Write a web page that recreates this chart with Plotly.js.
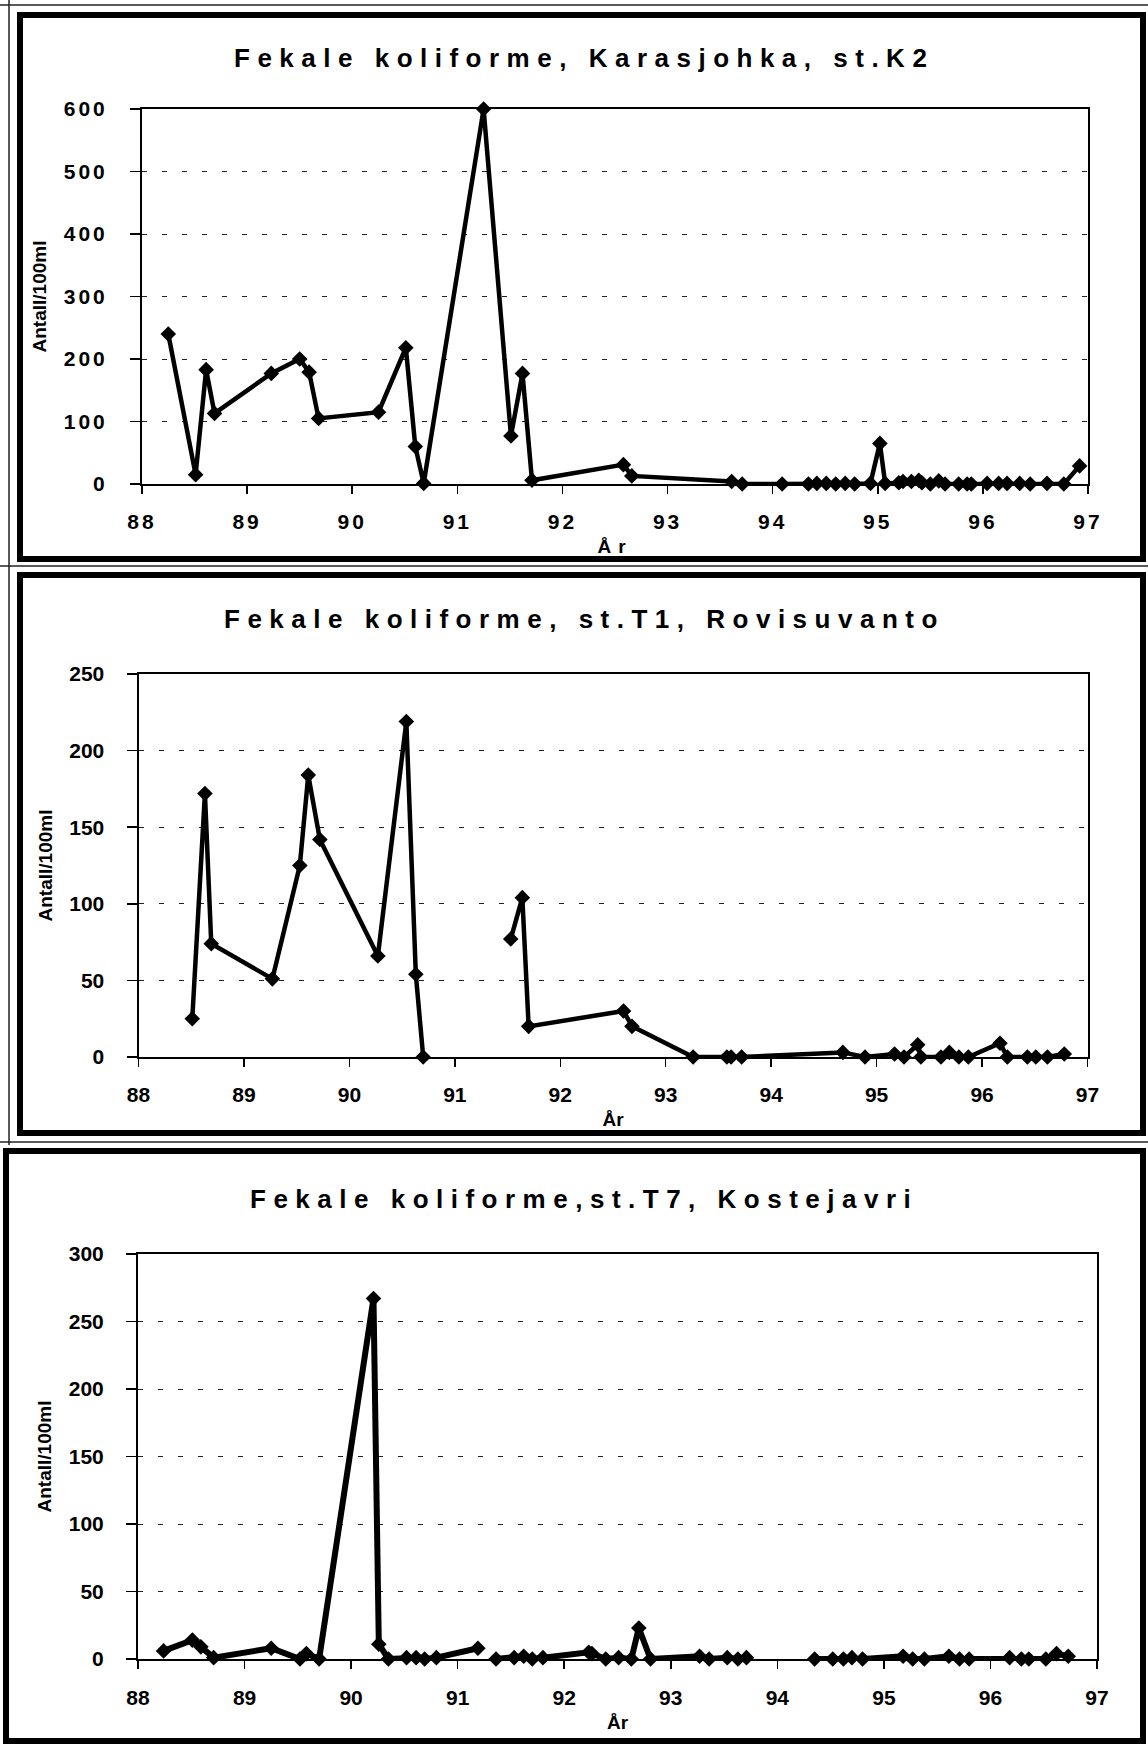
<!DOCTYPE html>
<html>
<head>
<meta charset="utf-8">
<script src="https://cdn.plot.ly/plotly-3.0.1.min.js"></script>
<style>
  html, body { margin: 0; padding: 0; background: #fff; }
  #chart { width: 1148px; height: 1745px; }
  .annotation-text { letter-spacing: 7.5px; font-weight: 900 !important; }
  .xtick text, .ytick text { letter-spacing: 3px; font-weight: bold !important; }
  .xtitle { letter-spacing: 7px; }
</style>
</head>
<body>
<div id="chart"></div>
<script>
// ---------- data ----------
const titles = [
  "Fekale koliforme, Karasjohka, st.K2",
  "Fekale koliforme, st.T1, Rovisuvanto",
  "Fekale koliforme,st.T7, Kostejavri"
];
const yAxisLabel = "Antall/100ml";
const xAxisLabel = "År";
const xTickVals = [88, 89, 90, 91, 92, 93, 94, 95, 96, 97];

// st.K2, Karasjohka
const yearsK2 = [88.25, 88.51, 88.61, 88.69, 89.23, 89.50, 89.59, 89.68, 90.25, 90.51, 90.60, 90.68,
  91.25, 91.51, 91.62, 91.71, 92.58, 92.66, 93.61, 93.71, 94.09, 94.34, 94.42, 94.51, 94.60, 94.69,
  94.78, 94.93, 95.02, 95.07, 95.20, 95.24, 95.32, 95.39, 95.42, 95.50, 95.58, 95.64, 95.77, 95.85,
  95.89, 96.04, 96.15, 96.23, 96.35, 96.45, 96.61, 96.77, 96.92];
const valsK2 = [240, 15, 183, 113, 177, 200, 179, 105, 115, 218, 60, 1,
  600, 77, 177, 6, 31, 13, 4, 0, 0, 0, 1, 1, 0, 1,
  0, 1, 65, 1, 2, 4, 4, 6, 2, 0, 5, 0, 0, 0,
  0, 1, 1, 1, 1, 0, 1, 0, 29];

// st.T1, Rovisuvanto (null = gap in the series)
const yearsT1 = [88.51, 88.63, 88.69, 89.27, 89.53, 89.61, 89.72, 90.27, 90.54, 90.63, 90.70, null,
  91.53, 91.64, 91.70, 92.60, 92.68, 93.26, 93.58, 93.62, 93.72, 94.68, 94.89, 95.17, 95.26, 95.39,
  95.42, 95.61, 95.69, 95.78, 95.87, 96.17, 96.24, 96.43, 96.51, 96.62, 96.78];
const valsT1 = [25, 172, 74, 51, 125, 184, 142, 66, 219, 54, 0, null,
  77, 104, 20, 30, 20, 0, 0, 0, 0, 3, 0, 2, 0, 8,
  0, 0, 3, 0, 0, 9, 0, 0, 0, 0, 2];

// st.T7, Kostejavri (null = gap in the series)
const yearsT7 = [88.24, 88.51, 88.59, 88.71, 89.25, 89.52, 89.58, 89.70, 90.21, 90.26, 90.35, 90.52,
  90.61, 90.69, 90.80, 91.19, null, 91.36, 91.53, 91.62, 91.70, 91.80, 92.23, 92.26, 92.39, 92.51,
  92.63, 92.70, 92.81, 93.27, 93.36, 93.53, 93.63, 93.71, null, 94.35, 94.52, 94.62, 94.70, 94.80,
  95.18, 95.27, 95.38, 95.61, 95.71, 95.80, 96.18, 96.29, 96.36, 96.52, 96.62, 96.73];
const valsT7 = [6, 14, 9, 1, 8, 0, 4, 0, 267, 11, 0, 1,
  1, 0, 1, 8, null, 0, 1, 2, 0, 1, 5, 4, 0, 1,
  0, 23, 0, 2, 0, 1, 0, 1, null, 0, 0, 0, 1, 0,
  2, 0, 0, 2, 0, 0, 1, 0, 0, 0, 4, 2];

const yRanges = [[0, 600], [0, 250], [0, 300]];
const yDticks = [100, 50, 50];

// ---------- layout helpers ----------
const W = 1148, H = 1745;
const X = p => p / W;
const Y = p => 1 - p / H;

const FONT = "'Liberation Sans', Arial, sans-serif";

function trace(xs, ys, idx, lw) {
  const s = idx === 0 ? "" : String(idx + 1);
  return {
    x: xs, y: ys, xaxis: "x" + s, yaxis: "y" + s,
    type: "scatter", mode: "lines+markers",
    line: { color: "#000", width: lw },
    marker: { symbol: "diamond", size: 12, color: "#000" },
    connectgaps: false, cliponaxis: false, hoverinfo: "x+y"
  };
}

const data = [
  trace(yearsK2, valsK2, 0, 4.5),
  trace(yearsT1, valsT1, 1, 4.5),
  trace(yearsT7, valsT7, 2, 6)
];

// plot areas in pixels: [left, right, top, bottom]
const areas = [
  [142, 1088, 109, 484],
  [138.5, 1087.5, 674, 1057],
  [138, 1097, 1254, 1659]
];
const xLabelStandoff = [10, 10, 11];
const xTitleStandoff = [7, 7, 7];

function xaxis(i) {
  const a = areas[i];
  return {
    domain: [X(a[0]), X(a[1])], anchor: i === 0 ? "y" : "y" + (i + 1),
    range: [88, 97], tickvals: xTickVals, ticktext: xTickVals.map(String),
    showgrid: false, zeroline: false,
    showline: true, mirror: true, linecolor: "#000", linewidth: 2,
    ticks: "outside", ticklen: 8, tickwidth: 1.5, tickcolor: "#000",
    ticklabelstandoff: xLabelStandoff[i],
    tickfont: { family: FONT, size: 21, color: "#000", weight: "bold" },
    title: { text: xAxisLabel, standoff: xTitleStandoff[i], font: { family: FONT, size: 19, color: "#000", weight: "bold" } },
    fixedrange: true
  };
}
function yaxis(i) {
  const a = areas[i];
  return {
    domain: [Y(a[3]), Y(a[2])], anchor: i === 0 ? "x" : "x" + (i + 1),
    range: yRanges[i], dtick: yDticks[i], tick0: 0,
    showgrid: true, gridcolor: "#222", gridwidth: 1, griddash: "5px,15px",
    zeroline: false,
    showline: true, mirror: true, linecolor: "#000", linewidth: 2,
    ticks: "outside", ticklen: 10, tickwidth: 1.5, tickcolor: "#000",
    ticklabelstandoff: 18,
    tickfont: { family: FONT, size: 21, color: "#000", weight: "bold" },
    title: { text: yAxisLabel, standoff: 12, font: { family: FONT, size: 19, color: "#000", weight: "bold" } },
    fixedrange: true
  };
}

const titleY = [58, 619, 1199];
const annotations = titles.map((t, i) => ({
  text: t, xref: "paper", yref: "paper", x: X(584), y: Y(titleY[i]),
  xanchor: "center", yanchor: "middle", showarrow: false,
  font: { family: FONT, size: 26, color: "#000", weight: "bold" }
}));

const frame = (x0, x1, y0, y1, w) => ({
  type: "rect", xref: "paper", yref: "paper",
  x0: X(x0), x1: X(x1), y0: Y(y1), y1: Y(y0),
  line: { color: "#000", width: w }, fillcolor: "rgba(0,0,0,0)", layer: "above"
});
const hline = (yy, x0, x1, w) => ({
  type: "line", xref: "paper", yref: "paper", x0: X(x0), x1: X(x1), y0: Y(yy), y1: Y(yy),
  line: { color: "#222", width: w }
});
const vline = (xx, y0, y1, w) => ({
  type: "line", xref: "paper", yref: "paper", x0: X(xx), x1: X(xx), y0: Y(y0), y1: Y(y1),
  line: { color: "#222", width: w }
});

const shapes = [
  frame(20, 1143, 15, 559, 6),
  frame(20, 1143, 575, 1133, 6),
  frame(6, 1143, 1151, 1741, 6),
  hline(5, 0, 1148, 1.5),
  hline(566, 0, 1148, 1.5),
  hline(1142, 0, 1148, 1.5),
  vline(9, 0, 1145, 1.5)
];

const layout = {
  width: W, height: H,
  margin: { l: 0, r: 0, t: 0, b: 0 },
  paper_bgcolor: "#fff", plot_bgcolor: "#fff",
  showlegend: false,
  font: { family: FONT, color: "#000" },
  xaxis: xaxis(0), yaxis: yaxis(0),
  xaxis2: xaxis(1), yaxis2: yaxis(1),
  xaxis3: xaxis(2), yaxis3: yaxis(2),
  annotations: annotations,
  shapes: shapes
};

Plotly.newPlot("chart", data, layout, { staticPlot: true, displayModeBar: false });
</script>
</body>
</html>
